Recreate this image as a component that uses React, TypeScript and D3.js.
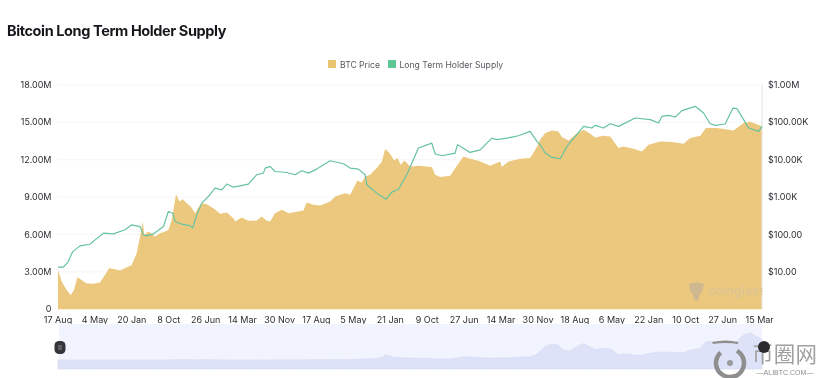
import React from "react";
import * as d3 from "d3";

const priceDays = [0,26,61,90,113,137,167,198,250,297,332,361,403,438,486,521,556,580,599,610,639,655,686,721,757,780,804,820,834,858,882,910,938,969,997,1016,1051,1098,1146,1193,1240,1252,1299,1346,1405,1440,1475,1499,1534,1582,1629,1735,1758,1805,1853,1923,1959,1994,2029,2065,2117,2147,2171,2206,2253,2289,2312,2343,2376,2399,2423,2449,2489,2548,2642,2666,2701,2772,2824,2866,2913,2972,3055,3125,3137,3184,3267,3337,3373,3389,3408,3444,3491,3538,3561,3609,3656,3715,3762,3797,3856,3903,3962,3997,4068,4127,4174,4257,4339,4422,4469,4540,4580,4657,4775,4846,4893,4964,4976];
const priceValues = [11.3,5.5,3.3,2.42,3.3,7.2,6.1,5,4.8,5.2,8.3,12.5,11.8,10.9,13.3,15.4,31.6,88,223,98,120,109,88,109,120,133,247,562,1202,765,884,691,562,373,562,691,649,507,358,388,274,223,285,232,237,303,232,223,373,458,373,439,720,623,598,765,1042,1155,1279,1155,2794,2472,3579,3963,5984,9016,19300,15100,9600,11090,7350,9600,6630,6900,6370,3963,3435,3727,7350,12270,10640,9400,6900,9016,6370,9016,10640,11090,18530,23700,34300,51800,61000,57400,40500,33000,46700,63600,49700,39600,43900,42200,20500,22800,19700,16700,25200,31000,29700,26800,38000,43900,70500,70500,61000,96000,104000,83000,78000];

const supplyDays = [0,38,73,104,156,226,262,321,391,474,521,580,603,627,674,745,780,811,827,874,933,952,981,1016,1063,1110,1157,1193,1240,1346,1405,1452,1464,1499,1534,1617,1676,1723,1770,1829,1923,2018,2065,2124,2171,2183,2253,2319,2359,2407,2465,2548,2642,2666,2713,2807,2824,2913,2984,3066,3102,3172,3255,3337,3385,3408,3444,3491,3550,3597,3715,3774,3797,3856,3903,3962,4080,4186,4245,4268,4316,4363,4410,4504,4563,4610,4646,4716,4771,4799,4846,4881,4952,4976];
const supplyValues = [3.38,3.38,3.83,4.63,5.09,5.22,5.57,6.11,6.05,6.38,6.78,6.64,5.97,5.89,6.05,6.64,7.85,7.71,7.05,6.83,6.72,6.51,7.58,8.52,9.05,9.72,9.59,10.05,9.8,10.05,10.8,10.93,11.33,11.47,11.06,10.98,10.8,11.12,10.93,11.25,11.92,11.68,11.33,11.25,10.8,9.99,9.32,8.84,9.4,9.64,10.8,12.94,13.34,12.46,12.32,12.54,13.21,12.59,12.8,13.74,13.61,13.74,13.93,14.28,13.47,13.21,12.54,12.19,12.08,13.07,14.68,14.55,14.76,14.55,14.89,14.68,15.35,15.22,14.95,15.48,15.56,15.43,15.94,16.29,15.75,14.89,14.76,14.87,16.15,16.1,15.22,14.55,14.28,14.68];

const xTickLabels = ["17 Aug","4 May","20 Jan","8 Oct","26 Jun","14 Mar","30 Nov","17 Aug","5 May","21 Jan","9 Oct","27 Jun","14 Mar","30 Nov","18 Aug","6 May","22 Jan","10 Oct","27 Jun","15 Mar"];
const tickStepDays = 261;
const supplyTicks = [0,3,6,9,12,15,18];
const supplyTickLabels = ["0","3.00M","6.00M","9.00M","12.00M","15.00M","18.00M"];
const priceTicks = [10,100,1000,10000,100000,1000000];
const priceTickLabels = ["$10.00","$100.00","$1.00K","$10.00K","$100.00K","$1.00M"];

const FONT = "Inter, 'Noto Sans', sans-serif";
const AREA = "#ecc87f";
const LINE = "#66c2a0";

export default function App() {
  const x = d3.scaleLinear().domain([0, 4976]).range([58, 762]);
  const ySupply = d3.scaleLinear().domain([0, 18]).range([309.3, 85]);
  const yPrice = d3.scaleLog().domain([1, 1000000]).range([309.3, 85]);
  const yMini = d3.scaleLinear().domain([0, 104000]).range([360, 333]);

  const price = priceDays.map((d, i) => [d, priceValues[i]] as [number, number]);
  const supply = supplyDays.map((d, i) => [d, supplyValues[i]] as [number, number]);

  const areaPath = d3.area<[number, number]>().x(d => x(d[0])).y0(309.3).y1(d => yPrice(d[1]))(price) as string;
  const linePath = d3.line<[number, number]>().x(d => x(d[0])).y(d => ySupply(d[1]))(supply) as string;
  const miniPath = d3.area<[number, number]>().x(d => x(d[0])).y0(369).y1(d => yMini(d[1]))(price) as string;

  return (
    <svg width={820} height={378} style={{ position: "absolute", left: 0, top: 0, background: "#fff" }} fontFamily={FONT}>
      <defs>
        <filter id="soft" x="-5%" y="-5%" width="110%" height="110%"><feGaussianBlur stdDeviation="0.35" /></filter>
      </defs>
      <g filter="url(#soft)">
        <text x={7} y={36} fontSize={14.5} fontWeight={700} fill="#17181c" letterSpacing={-0.4}>Bitcoin Long Term Holder Supply</text>

        <rect x={328} y={60} width={8} height={8} fill="#e9c573" />
        <text x={340} y={67.5} fontSize={8.6} fill="#55585f">BTC Price</text>
        <rect x={388} y={60} width={8} height={8} fill="#5ec793" />
        <text x={399.5} y={67.5} fontSize={8.6} fill="#55585f">Long Term Holder Supply</text>

        {supplyTicks.slice(1).map(t => (
          <line key={t} x1={58} x2={762} y1={ySupply(t)} y2={ySupply(t)} stroke="#f6f6f6" strokeWidth={1} />
        ))}
        <path d={areaPath} fill={AREA} />
        <line x1={762} x2={762} y1={85} y2={309} stroke="#e4e4e6" strokeWidth={1} />
        <path d={linePath} fill="none" stroke={LINE} strokeWidth={1.2} strokeLinejoin="round" />

        {supplyTicks.map((t, i) => (
          <text key={t} x={51.5} y={ySupply(t) + 3} textAnchor="end" fontSize={9} fill="#2c2e33">{supplyTickLabels[i]}</text>
        ))}
        {priceTicks.map((t, i) => (
          <text key={t} x={768} y={yPrice(t) + 3} fontSize={9} fill="#2c2e33">{priceTickLabels[i]}</text>
        ))}
        {xTickLabels.map((l, i) => (
          <text key={i} x={x(i * tickStepDays)} y={323} textAnchor="middle" fontSize={9} fill="#2c2e33">{l}</text>
        ))}

        <g>
          <path d="M689 284 q8 -3 15 0 l-1.5 6 q-1 3 -3 4 l-1 6 q-2.5 2 -4.5 0 l-1 -6 q-2 -1 -3 -4 z" fill="#cdb88f" />
          <text x={708} y={295} fontSize={12.5} fontWeight={600} fill="#dcc491">coinglass</text>
        </g>
        <rect x={762.5} y={284} width={14} height={16} fill="#fff" />

        <rect x={59} y={324} width={703} height={45} fill="#f1f3fe" />
        <path d={miniPath} fill="#dde2f8" stroke="#d3d9f4" strokeWidth={0.6} />
        <rect x={54.5} y={341} width={11} height={13} rx={4.5} fill="#34363b" />
        <rect x={58.5} y={345} width={1} height={5} fill="#85878c" />
        <rect x={60.5} y={345} width={1} height={5} fill="#85878c" />

        <g>
          <circle cx={730} cy={363} r={14} fill="none" stroke="#8e8e8e" strokeWidth={4.5} strokeDasharray="70 18" transform="rotate(-60 730 363)" />
          <path d="M712 342 Q726 339 738 342 L738 344 Q725 342 713 344 Z" fill="#8e8e8e" />
          <circle cx={730} cy={363} r={3} fill="#9a9a9a" />
          <text x={752} y={362} fontSize={21.5} fill="#a0a0a0" fontFamily="'Noto Sans CJK SC', sans-serif" letterSpacing={0.3}>币圈网</text>
          <circle cx={764} cy={347} r={6} fill="#2c2c2e" />
          <text x={785} y={375} textAnchor="middle" fontSize={7} fill="#8e8e8e" fontFamily="'Liberation Sans', sans-serif">—ALIBTC.COM—</text>
        </g>
      </g>
    </svg>
  );
}
